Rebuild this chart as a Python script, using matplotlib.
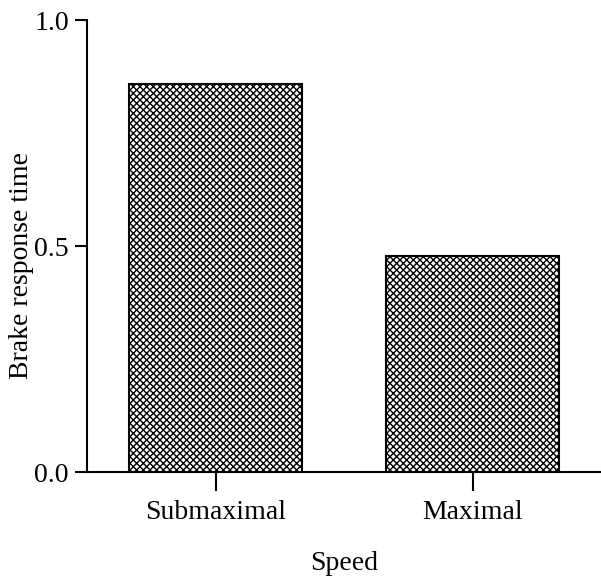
import matplotlib
matplotlib.use("Agg")
import matplotlib.pyplot as plt

categories = ["Submaximal", "Maximal"]
values = [0.858, 0.477]
yticks = [0.0, 0.5, 1.0]
ytick_labels = ["0.0", "0.5", "1.0"]

plt.rcParams['font.family'] = ['Liberation Serif', 'DejaVu Serif']
plt.rcParams['hatch.linewidth'] = 1.0

W, H = 601, 577
fig = plt.figure(figsize=(W/100, H/100), dpi=100)
ax = fig.add_axes([87/W, 1 - 472/H, 1 - 87/W, (472 - 20)/H])

x = list(range(len(categories)))
ax.bar(x, values, width=0.67, color="white", edgecolor="black",
       linewidth=1.5, hatch="xxxxx")

ax.set_xlim(-0.5, 1.5)
ax.set_ylim(0, 1.0)
ax.set_yticks(yticks)
ax.set_yticklabels(ytick_labels)
ax.set_xticks(x)
ax.set_xticklabels(categories)
for s in ["top", "right"]:
    ax.spines[s].set_visible(False)
for s in ["left", "bottom"]:
    ax.spines[s].set_linewidth(1.5)
ax.tick_params(axis="y", direction="out", length=9, width=1.5, labelsize=20, pad=4)
ax.tick_params(axis="x", direction="out", length=14, width=1.5, labelsize=20, pad=6)
ax.set_ylabel("Brake response time", fontsize=20)
ax.set_xlabel("Speed", fontsize=20)
ax.yaxis.label.set(va="center", ha="center")
ax.xaxis.label.set(va="center", ha="center")
ax.yaxis.set_label_coords(-0.128, 0.456)
ax.xaxis.set_label_coords(0.5, -0.203)

fig.savefig("out.png", dpi=100)
